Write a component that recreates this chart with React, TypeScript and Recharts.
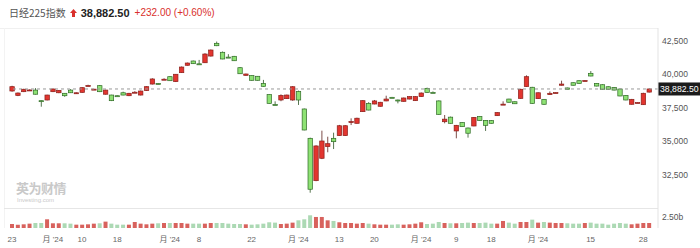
import React from 'react';
import { ComposedChart, Bar, XAxis, YAxis, ReferenceLine, Cell } from 'recharts';

// ---- data ----
const opens = [
  38731, 38400, 38680, 38800, 38800, 38010, 38060, 38680, 38600, 38560,
  38800, 38530, 38630, 39130, 38860, 39130, 38490, 38430, 38380, 38600,
  38380, 38630, 38430, 38760, 39250, 39300, 39600, 39800, 39430, 40100,
  40650, 40970, 40760, 40840, 41340, 42290, 41620, 41260, 41320, 40470,
  39900, 39880, 39830, 39290, 38460, 37720, 38060, 38160, 38060, 38700,
  37390, 35200, 32040, 33710, 34580, 35200, 35400, 35400, 36440, 36320,
  37190, 37810, 37760, 37590, 37990, 38260, 38060, 37960, 38130, 38010,
  38310, 38930, 38630, 37990, 36440, 36780, 35750, 36370, 35970, 36120,
  36820, 36540, 36520, 36890, 37740, 38130, 37930, 38180, 39060, 39010,
  38160, 38110, 38460, 38600, 39160, 38960, 39350, 39500, 39500, 40050,
  39300, 39200, 39050, 39000, 38880, 38400, 37740, 37860, 37710, 38650,
];
const closes = [
  39055, 38580, 38860, 38810, 38490, 37990, 38430, 38880, 38780, 38380,
  38600, 38600, 38980, 39140, 38870, 38680, 38800, 38010, 38370, 38430,
  38560, 38640, 38730, 39055, 39630, 39290, 39610, 39500, 39980, 40520,
  40820, 40770, 40750, 41490, 41790, 42110, 41120, 41250, 40990, 40020,
  40000, 39530, 39530, 39080, 37810, 37710, 38400, 38430, 39050, 38060,
  35820, 31400, 34630, 35000, 34800, 34950, 36140, 36140, 36450, 36700,
  38010, 37310, 37990, 37890, 38130, 38250, 38050, 38210, 38310, 38310,
  38580, 38630, 38620, 36990, 36630, 36320, 36170, 36070, 35580, 36760,
  36520, 36170, 36320, 37120, 37750, 37890, 37780, 38860, 39800, 37810,
  38600, 37740, 38560, 38610, 39250, 38860, 39160, 39300, 39510, 39850,
  39100, 38860, 38860, 38800, 38360, 38060, 38110, 37870, 38560, 38882.5,
];
const highs = [
  39120, 38620, 38900, 38850, 38950, 38020, 38450, 38920, 38800, 38580,
  38870, 38620, 39010, 39200, 38890, 39180, 38830, 38450, 38400, 38680,
  38590, 38720, 38760, 39080, 39680, 39320, 39680, 39830, 40000, 40560,
  40850, 41000, 41050, 41550, 41830, 42420, 41680, 41480, 41350, 40520,
  40030, 39900, 39850, 39560, 38480, 37960, 38480, 38460, 39100, 38760,
  37420, 35250, 34680, 35770, 35320, 35620, 36200, 36180, 36690, 36740,
  38050, 37900, 38060, 37920, 38380, 38290, 38090, 38240, 38330, 38340,
  38620, 38980, 38700, 38030, 36940, 36820, 36200, 36400, 36000, 36790,
  36850, 36560, 36550, 37150, 37960, 38150, 37950, 38900, 39900, 39040,
  38630, 38130, 38700, 38630, 39500, 38980, 39370, 39520, 39540, 40220,
  39320, 39230, 39080, 39020, 38900, 38420, 38140, 37890, 38600, 38930,
];
const lows = [
  38680, 38350, 38650, 38760, 38470, 37560, 38030, 38650, 38570, 38300,
  38580, 38510, 38600, 39110, 38840, 38650, 38460, 37980, 38350, 38410,
  38350, 38620, 38400, 38740, 39220, 39230, 39580, 39480, 39400, 40080,
  40630, 40750, 40730, 40820, 41300, 42080, 41100, 41230, 40970, 40000,
  39880, 39500, 39510, 39060, 37790, 37690, 37970, 38140, 38000, 37690,
  35800, 31140, 32000, 33650, 34160, 34400, 35380, 35380, 36190, 36300,
  37170, 37290, 37740, 37570, 37970, 38230, 37810, 37940, 38110, 37990,
  38290, 38600, 38600, 36960, 36320, 36300, 35200, 36050, 35250, 36100,
  36500, 35750, 36300, 36870, 37720, 37870, 37760, 38160, 39040, 37780,
  38140, 37700, 38440, 38580, 39140, 38840, 39140, 39280, 39480, 39830,
  39080, 38840, 38840, 38780, 38340, 38040, 37720, 37840, 37690, 38620,
];
const volumes = [
  0.91, 0.76, 0.84, 0.99, 1.14, 1.14, 1.98, 1.07, 1.07, 1.07,
  0.99, 0.76, 0.76, 0.84, 0.99, 1.07, 1.45, 0.99, 0.76, 0.76,
  0.76, 1.37, 0.99, 0.84, 0.99, 1.07, 1.14, 1.14, 1.14, 1.14,
  0.99, 0.99, 0.99, 0.99, 1.14, 1.14, 1.14, 0.99, 0.91, 0.91,
  0.84, 0.76, 0.84, 0.99, 1.30, 1.22, 0.91, 0.99, 1.22, 1.75,
  1.98, 2.89, 2.51, 2.51, 1.75, 1.60, 1.30, 1.14, 1.14, 0.99,
  1.14, 0.99, 0.84, 0.76, 0.76, 0.76, 0.84, 0.76, 0.84, 0.99,
  1.30, 0.91, 0.99, 1.37, 1.14, 1.07, 1.07, 1.14, 1.22, 1.14,
  1.14, 1.22, 0.99, 0.99, 1.60, 1.22, 0.99, 1.37, 1.37, 1.90,
  1.22, 1.37, 1.22, 1.14, 1.14, 1.07, 0.99, 0.99, 1.14, 1.22,
  0.99, 0.99, 0.76, 0.99, 1.14, 0.99, 0.84, 0.99, 1.14, 1.14,
];
const tickIdx = [0, 7, 12, 18, 27, 32, 41, 49, 56, 62, 70, 76, 82, 90, 99, 108];
const tickLabels = ['23', "月 '24", '10', '18', "月 '24", '8', '22', "月 '24", '13', '20', "月 '24", '9', '18', "月 '24", '15', '28'];
const priceTicks = [32500, 35000, 37500, 40000, 42500];
const priceDomain = [30000, 43433];
const volTicks = [2.5];
const volDomain = [0, 4.55];
const lastPrice = 38882.5;
const title = '日经225指数';
const lastText = '38,882.50';
const changeText = '+232.00 (+0.60%)';

const data = opens.map((o, i) => ({
  i,
  open: o,
  close: closes[i],
  high: highs[i],
  low: lows[i],
  range: [lows[i], highs[i]],
  vol: volumes[i],
}));

const UP = '#e2352f';
const UP_EDGE = '#8a1f1a';
const DOWN = '#8ee274';
const DOWN_EDGE = '#2f6a25';
const VOL_UP = '#d8625d';
const VOL_DOWN = '#acd9b4';
const FONT = '"Liberation Sans", Arial, "Noto Sans CJK SC", sans-serif';

const Candle = (props: any) => {
  const { x, y, width, height, payload } = props;
  if (!payload) return null;
  const { open, close, high, low } = payload;
  const top = Math.min(y, y + height);
  const h = Math.abs(height);
  const py = (v: number) => top + ((high - v) / (high - low)) * h;
  const up = close >= open;
  const cx = x + width / 2;
  const bw = 4.4;
  const yo = py(open);
  const yc = py(close);
  const bTop = Math.min(yo, yc);
  const bH = Math.max(Math.abs(yo - yc), 1);
  return (
    <g>
      <line x1={cx} x2={cx} y1={top} y2={top + h} stroke={up ? '#6e3a36' : '#44663c'} strokeWidth={0.9} />
      <rect
        x={cx - bw / 2}
        y={bTop}
        width={bw}
        height={bH}
        fill={up ? UP : DOWN}
        stroke={up ? UP_EDGE : DOWN_EDGE}
        strokeWidth={0.7}
      />
    </g>
  );
};

const PriceTag = (props: any) => {
  const vb = props.viewBox || {};
  const x = 658;
  const y = vb.y;
  return (
    <g>
      <rect x={x} y={y - 6.5} width={44} height={13} fill="#1b1b1b" />
      <text x={x + 2} y={y + 3.3} fill="#ffffff" fontSize={8.7} fontFamily={FONT}>
        {lastText}
      </text>
    </g>
  );
};

export default function App() {
  return (
    <div
      style={{
        position: 'fixed',
        left: 0,
        top: 0,
        width: 700,
        height: 248,
        background: '#fff',
        overflow: 'hidden',
        fontFamily: FONT,
      }}
    >
      {/* header */}
      <div style={{ position: 'absolute', left: 9, top: 5, whiteSpace: 'nowrap', display: 'flex', alignItems: 'center', height: 15 }}>
        <span style={{ fontSize: 10, color: '#555', fontFamily: '"Noto Sans CJK SC", sans-serif' }}>{title}</span>
        <svg width={9} height={10} style={{ marginLeft: 3, marginRight: 3 }}>
          <path d="M4.5 1 L8 5 L6 5 L6 9 L3 9 L3 5 L1 5 Z" fill="#d9302c" />
        </svg>
        <span style={{ fontSize: 11, fontWeight: 700, color: '#222' }}>{lastText}</span>
        <span style={{ fontSize: 10, color: '#d9302c', marginLeft: 5 }}>{changeText}</span>
      </div>
      {/* frame lines */}
      <div style={{ position: 'absolute', left: 0, top: 28, width: 658, height: 1, background: '#f0f0f0' }} />
      <div style={{ position: 'absolute', left: 4, top: 28, width: 1, height: 200, background: '#f3f3f3' }} />
      <div style={{ position: 'absolute', left: 4, top: 208, width: 654, height: 1, background: '#e6e6e6' }} />

      {/* watermark */}
      <div style={{ position: 'absolute', left: 16, top: 181, lineHeight: '14px', color: '#c9c9c9', fontWeight: 700, fontSize: 13, fontFamily: '"Noto Sans CJK SC", sans-serif', letterSpacing: -0.5 }}>
        英为财情
      </div>
      <div style={{ position: 'absolute', left: 17, top: 197, lineHeight: '7px', color: '#c9c9c9', fontSize: 6 }}>Investing.com</div>

      {/* price chart */}
      <div style={{ position: 'absolute', left: 0, top: 28 }}>
        <ComposedChart width={700} height={180} data={data} margin={{ top: 0, right: 0, bottom: 0, left: 9 }}>
          <XAxis dataKey="i" type="category" hide padding={{ left: 0, right: 6 }} />
          <YAxis
            orientation="right"
            width={42}
            domain={priceDomain}
            ticks={priceTicks}
            allowDataOverflow
            tickLine={false}
            tickSize={0}
            tickMargin={4}
            axisLine={{ stroke: '#e3e3e3' }}
            tick={{ fontSize: 8.5, fill: '#555', fontFamily: FONT }}
            tickFormatter={(v: number) => v.toLocaleString('en-US')}
          />
          <ReferenceLine y={lastPrice} stroke="#9a9a9a" strokeDasharray="3 3" label={<PriceTag />} ifOverflow="visible" />
          <Bar dataKey="range" shape={<Candle />} isAnimationActive={false} />
        </ComposedChart>
      </div>

      {/* volume chart */}
      <div style={{ position: 'absolute', left: 0, top: 208 }}>
        <ComposedChart width={700} height={40} data={data} margin={{ top: 0, right: 0, bottom: 0, left: 9 }}>
          <XAxis
            dataKey="i"
            type="category"
            height={20}
            padding={{ left: 0, right: 6 }}
            ticks={tickIdx}
            interval={0}
            tickLine={false}
            axisLine={false}
            tickSize={0}
            tickMargin={8}
            tick={{ fontSize: 8, fill: '#666', fontFamily: FONT }}
            tickFormatter={(v: number) => tickLabels[tickIdx.indexOf(v)] ?? ''}
          />
          <YAxis
            orientation="right"
            width={42}
            domain={volDomain}
            ticks={volTicks}
            allowDataOverflow
            tickLine={false}
            tickSize={0}
            tickMargin={4}
            axisLine={{ stroke: '#e3e3e3' }}
            tick={{ fontSize: 8.5, fill: '#555', fontFamily: FONT }}
            tickFormatter={(v: number) => v.toFixed(2) + 'b'}
          />
          <Bar dataKey="vol" barSize={4} isAnimationActive={false}>
            {data.map((d) => (
              <Cell key={d.i} fill={d.close >= d.open ? VOL_UP : VOL_DOWN} />
            ))}
          </Bar>
        </ComposedChart>
      </div>
    </div>
  );
}
